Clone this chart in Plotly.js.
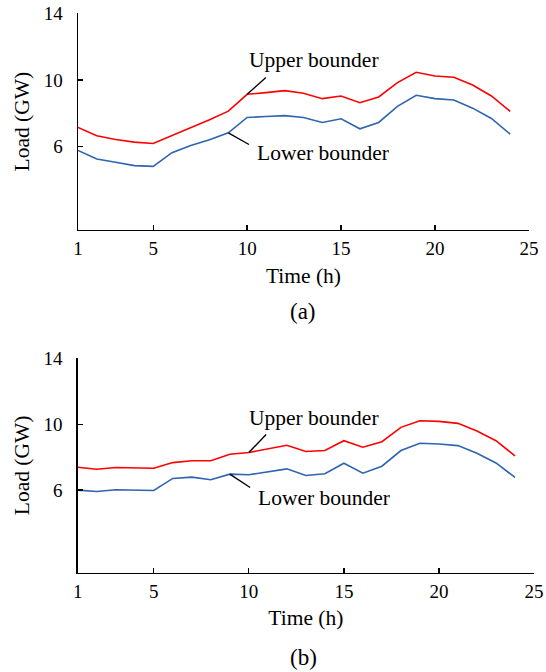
<!DOCTYPE html>
<html>
<head>
<meta charset="utf-8">
<script src="https://cdn.plot.ly/plotly-3.0.1.min.js"></script>
<style>html,body{margin:0;padding:0;background:#fff;}#chart{width:546px;height:672px;}</style>
</head>
<body>
<div id="chart"></div>
<script>
const hours = [1,2,3,4,5,6,7,8,9,10,11,12,13,14,15,16,17,18,19,20,21,22,23,24];
const upperA = [7.15,6.65,6.43,6.27,6.19,6.65,7.11,7.61,8.13,9.14,9.24,9.36,9.20,8.88,9.04,8.64,8.98,9.84,10.46,10.24,10.16,9.70,9.04,8.11];
const lowerA = [5.77,5.26,5.06,4.86,4.82,5.64,6.07,6.41,6.83,7.75,7.81,7.86,7.75,7.45,7.67,7.07,7.45,8.42,9.08,8.88,8.80,8.31,7.69,6.75];
const upperB = [7.39,7.27,7.37,7.33,7.33,7.67,7.78,7.78,8.18,8.28,8.52,8.72,8.34,8.40,9.00,8.60,8.94,9.81,10.21,10.17,10.05,9.59,9.00,8.08];
const lowerB = [6.00,5.92,6.02,5.98,5.98,6.71,6.79,6.63,6.97,6.93,7.11,7.29,6.89,6.99,7.63,7.03,7.45,8.40,8.84,8.80,8.70,8.24,7.65,6.77];
const xTicks = [1,5,10,15,20,25];
const yTicks = [6,10,14];
const upperLabel = "Upper bounder";
const lowerLabel = "Lower bounder";
const panelLabels = ["(a)", "(b)"];

const red = "#ff0000", blue = "#2e64b0";
const font = "Liberation Serif, Times New Roman, serif";

const traces = [
  {x: hours, y: upperA, xaxis: "x", yaxis: "y", mode: "lines", line: {color: red, width: 1.6}},
  {x: hours, y: lowerA, xaxis: "x", yaxis: "y", mode: "lines", line: {color: blue, width: 1.6}},
  {x: hours, y: upperB, xaxis: "x2", yaxis: "y2", mode: "lines", line: {color: red, width: 1.6}},
  {x: hours, y: lowerB, xaxis: "x2", yaxis: "y2", mode: "lines", line: {color: blue, width: 1.6}}
];

function xax(domain, anchor) {
  return {domain: domain, anchor: anchor, range: [1, 25], tickvals: xTicks, ticks: "inside", ticklen: 5,
    tickwidth: 1.3, tickcolor: "#000", showline: true, linecolor: "#000", linewidth: 1.4, showgrid: false,
    zeroline: false, tickfont: {family: font, size: 19, color: "#000"}, ticklabelstandoff: 1,
    title: {text: "Time (h)", font: {family: font, size: 21.5, color: "#000"}, standoff: 9}};
}
function yax(domain, anchor) {
  return {domain: domain, anchor: anchor, range: [1, 14], tickvals: yTicks, ticks: "inside", ticklen: 5,
    tickwidth: 1.3, tickcolor: "#000", showline: true, linecolor: "#000", linewidth: 1.4, showgrid: false,
    zeroline: false, tickfont: {family: font, size: 19, color: "#000"}, ticklabelstandoff: 10,
    title: {text: "Load (GW)", font: {family: font, size: 21.5, color: "#000"}, standoff: 8}};
}

const annFont = {family: font, size: 21.5, color: "#000"};
const annotations = [
  {xref: "x", yref: "y", x: 9.99, y: 11.19, text: upperLabel, showarrow: false, xanchor: "left", yanchor: "middle", font: annFont},
  {xref: "x", yref: "y", x: 10.41, y: 5.64, text: lowerLabel, showarrow: false, xanchor: "left", yanchor: "middle", font: annFont},
  {xref: "x2", yref: "y2", x: 9.91, y: 10.39, text: upperLabel, showarrow: false, xanchor: "left", yanchor: "middle", font: annFont},
  {xref: "x2", yref: "y2", x: 10.38, y: 5.50, text: lowerLabel, showarrow: false, xanchor: "left", yanchor: "middle", font: annFont},
  {xref: "paper", yref: "paper", x: 0.555, y: 1 - 311/672, text: panelLabels[0], showarrow: false, xanchor: "center", yanchor: "middle", font: {family: font, size: 23, color: "#000"}},
  {xref: "paper", yref: "paper", x: 0.555, y: 1 - 657/672, text: panelLabels[1], showarrow: false, xanchor: "center", yanchor: "middle", font: {family: font, size: 23, color: "#000"}}
];

const lineStyle = {color: "#000", width: 1.4};
const shapes = [
  {type: "line", xref: "x", yref: "y", x0: 11.0, y0: 10.15, x1: hours[9], y1: upperA[9], line: lineStyle},
  {type: "line", xref: "x", yref: "y", x0: hours[8], y0: lowerA[8], x1: 10.1, y1: 6.13, line: lineStyle},
  {type: "line", xref: "x2", yref: "y2", x0: 10.91, y0: 9.37, x1: hours[9], y1: upperB[9], line: lineStyle},
  {type: "line", xref: "x2", yref: "y2", x0: hours[8], y0: lowerB[8], x1: 10.07, y1: 6.16, line: lineStyle}
];

const layout = {
  width: 546, height: 672, margin: {l: 0, r: 0, t: 0, b: 0},
  paper_bgcolor: "#fff", plot_bgcolor: "#fff", showlegend: false,
  xaxis: xax([78/546, 529/546], "y"),
  yaxis: yax([1 - 230/672, 1 - 13.3/672], "x"),
  xaxis2: xax([77.7/546, 534/546], "y2"),
  yaxis2: yax([1 - 572.5/672, 1 - 358.3/672], "x2"),
  annotations: annotations, shapes: shapes
};
Plotly.newPlot("chart", traces, layout, {staticPlot: true});
</script>
</body>
</html>
